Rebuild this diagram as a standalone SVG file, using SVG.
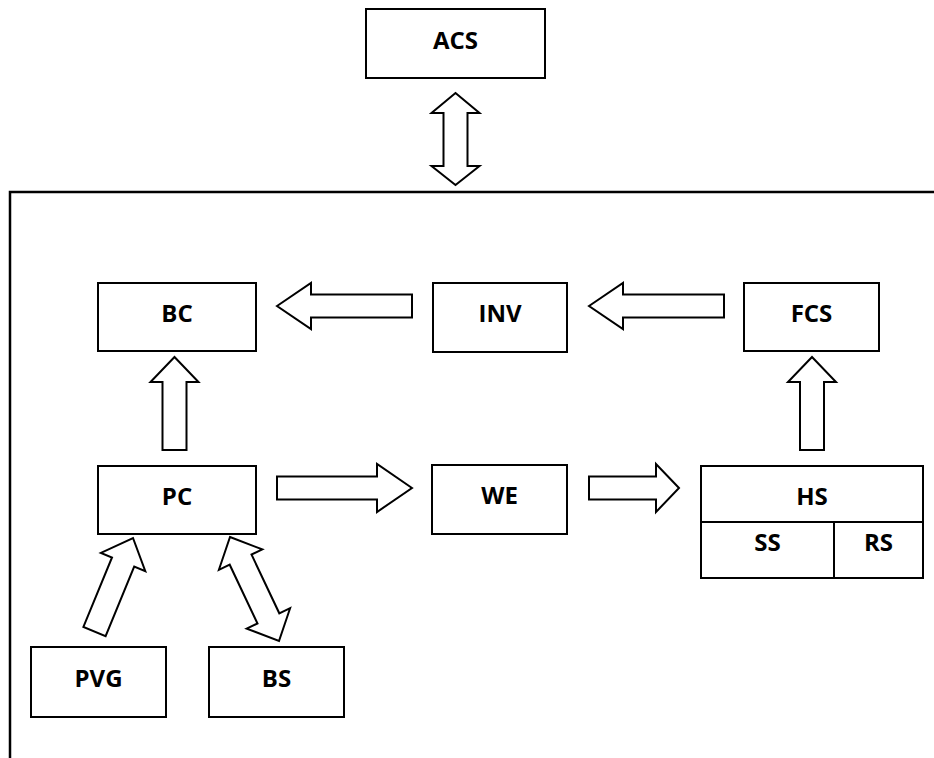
<svg xmlns="http://www.w3.org/2000/svg" width="934" height="758" viewBox="0 0 934 758">
<style>
.box{fill:#fff;stroke:#000;stroke-width:2}
.arr{fill:#fff;stroke:#000;stroke-width:2;stroke-linejoin:miter}
.lbl{font-family:"Open Sans","Liberation Sans",sans-serif;font-weight:bold;font-size:24px;text-anchor:middle;fill:#000}
</style>
<rect width="934" height="758" fill="#fff"/>
<path id="frame" d="M10,758 V192 H934" fill="none" stroke="#000" stroke-width="2.5"/>
<g id="connectors">
<polygon class="arr" points="455.5,93 479.5,113 467.5,113 467.5,166 479.5,166 455.5,185 431.5,166 443.5,166 443.5,113 431.5,113"/>
<polygon class="arr" points="277,306 311,283 311,294.5 412,294.5 412,317.5 311,317.5 311,329"/>
<polygon class="arr" points="589,306 623,283 623,294.5 724,294.5 724,317.5 623,317.5 623,329"/>
<polygon class="arr" points="174.5,357 198.5,382 186.5,382 186.5,450 162.5,450 162.5,382 150.5,382"/>
<polygon class="arr" points="812,357 836,382 824,382 824,450 800,450 800,382 788,382"/>
<polygon class="arr" points="412,488 377,464 377,476.5 277,476.5 277,499.5 377,499.5 377,512"/>
<polygon class="arr" points="679,488 656,464 656,476.5 589,476.5 589,499.5 656,499.5 656,512"/>
<polygon class="arr" points="133,538 145.3,571.2 134.2,566.6 105.6,636.1 83.4,626.9 112,557.5 100.9,552.9"/>
<polygon class="arr" points="230,537 262.3,549.4 251.5,554.5 279.3,613.3 290.1,608.2 279,641 246.7,628.6 257.5,623.5 229.7,564.7 218.9,569.8"/>
</g>
<g id="ACS"><rect class="box" x="366" y="9" width="179" height="69"/><text class="lbl" x="455.5" y="49">ACS</text></g>
<g id="BC"><rect class="box" x="98" y="283" width="158" height="68"/><text class="lbl" x="177" y="322">BC</text></g>
<g id="INV"><rect class="box" x="433" y="283" width="134" height="69"/><text class="lbl" x="500" y="322">INV</text></g>
<g id="FCS"><rect class="box" x="744" y="283" width="135" height="68"/><text class="lbl" x="811.5" y="322">FCS</text></g>
<g id="PC"><rect class="box" x="98" y="466" width="158" height="68"/><text class="lbl" x="177" y="505">PC</text></g>
<g id="WE"><rect class="box" x="432" y="465" width="135" height="69"/><text class="lbl" x="499.5" y="504">WE</text></g>
<g id="HS"><rect class="box" x="701" y="466" width="222" height="112"/><line x1="701" y1="522" x2="923" y2="522" stroke="#000" stroke-width="2"/><text class="lbl" x="812" y="505">HS</text></g>
<g id="SS"><line x1="834" y1="522" x2="834" y2="578" stroke="#000" stroke-width="2"/><text class="lbl" x="767.5" y="551">SS</text></g>
<g id="RS"><text class="lbl" x="878.5" y="551">RS</text></g>
<g id="PVG"><rect class="box" x="31" y="647" width="135" height="70"/><text class="lbl" x="98.5" y="687">PVG</text></g>
<g id="BS"><rect class="box" x="209" y="647" width="135" height="70"/><text class="lbl" x="276.5" y="687">BS</text></g>
</svg>
